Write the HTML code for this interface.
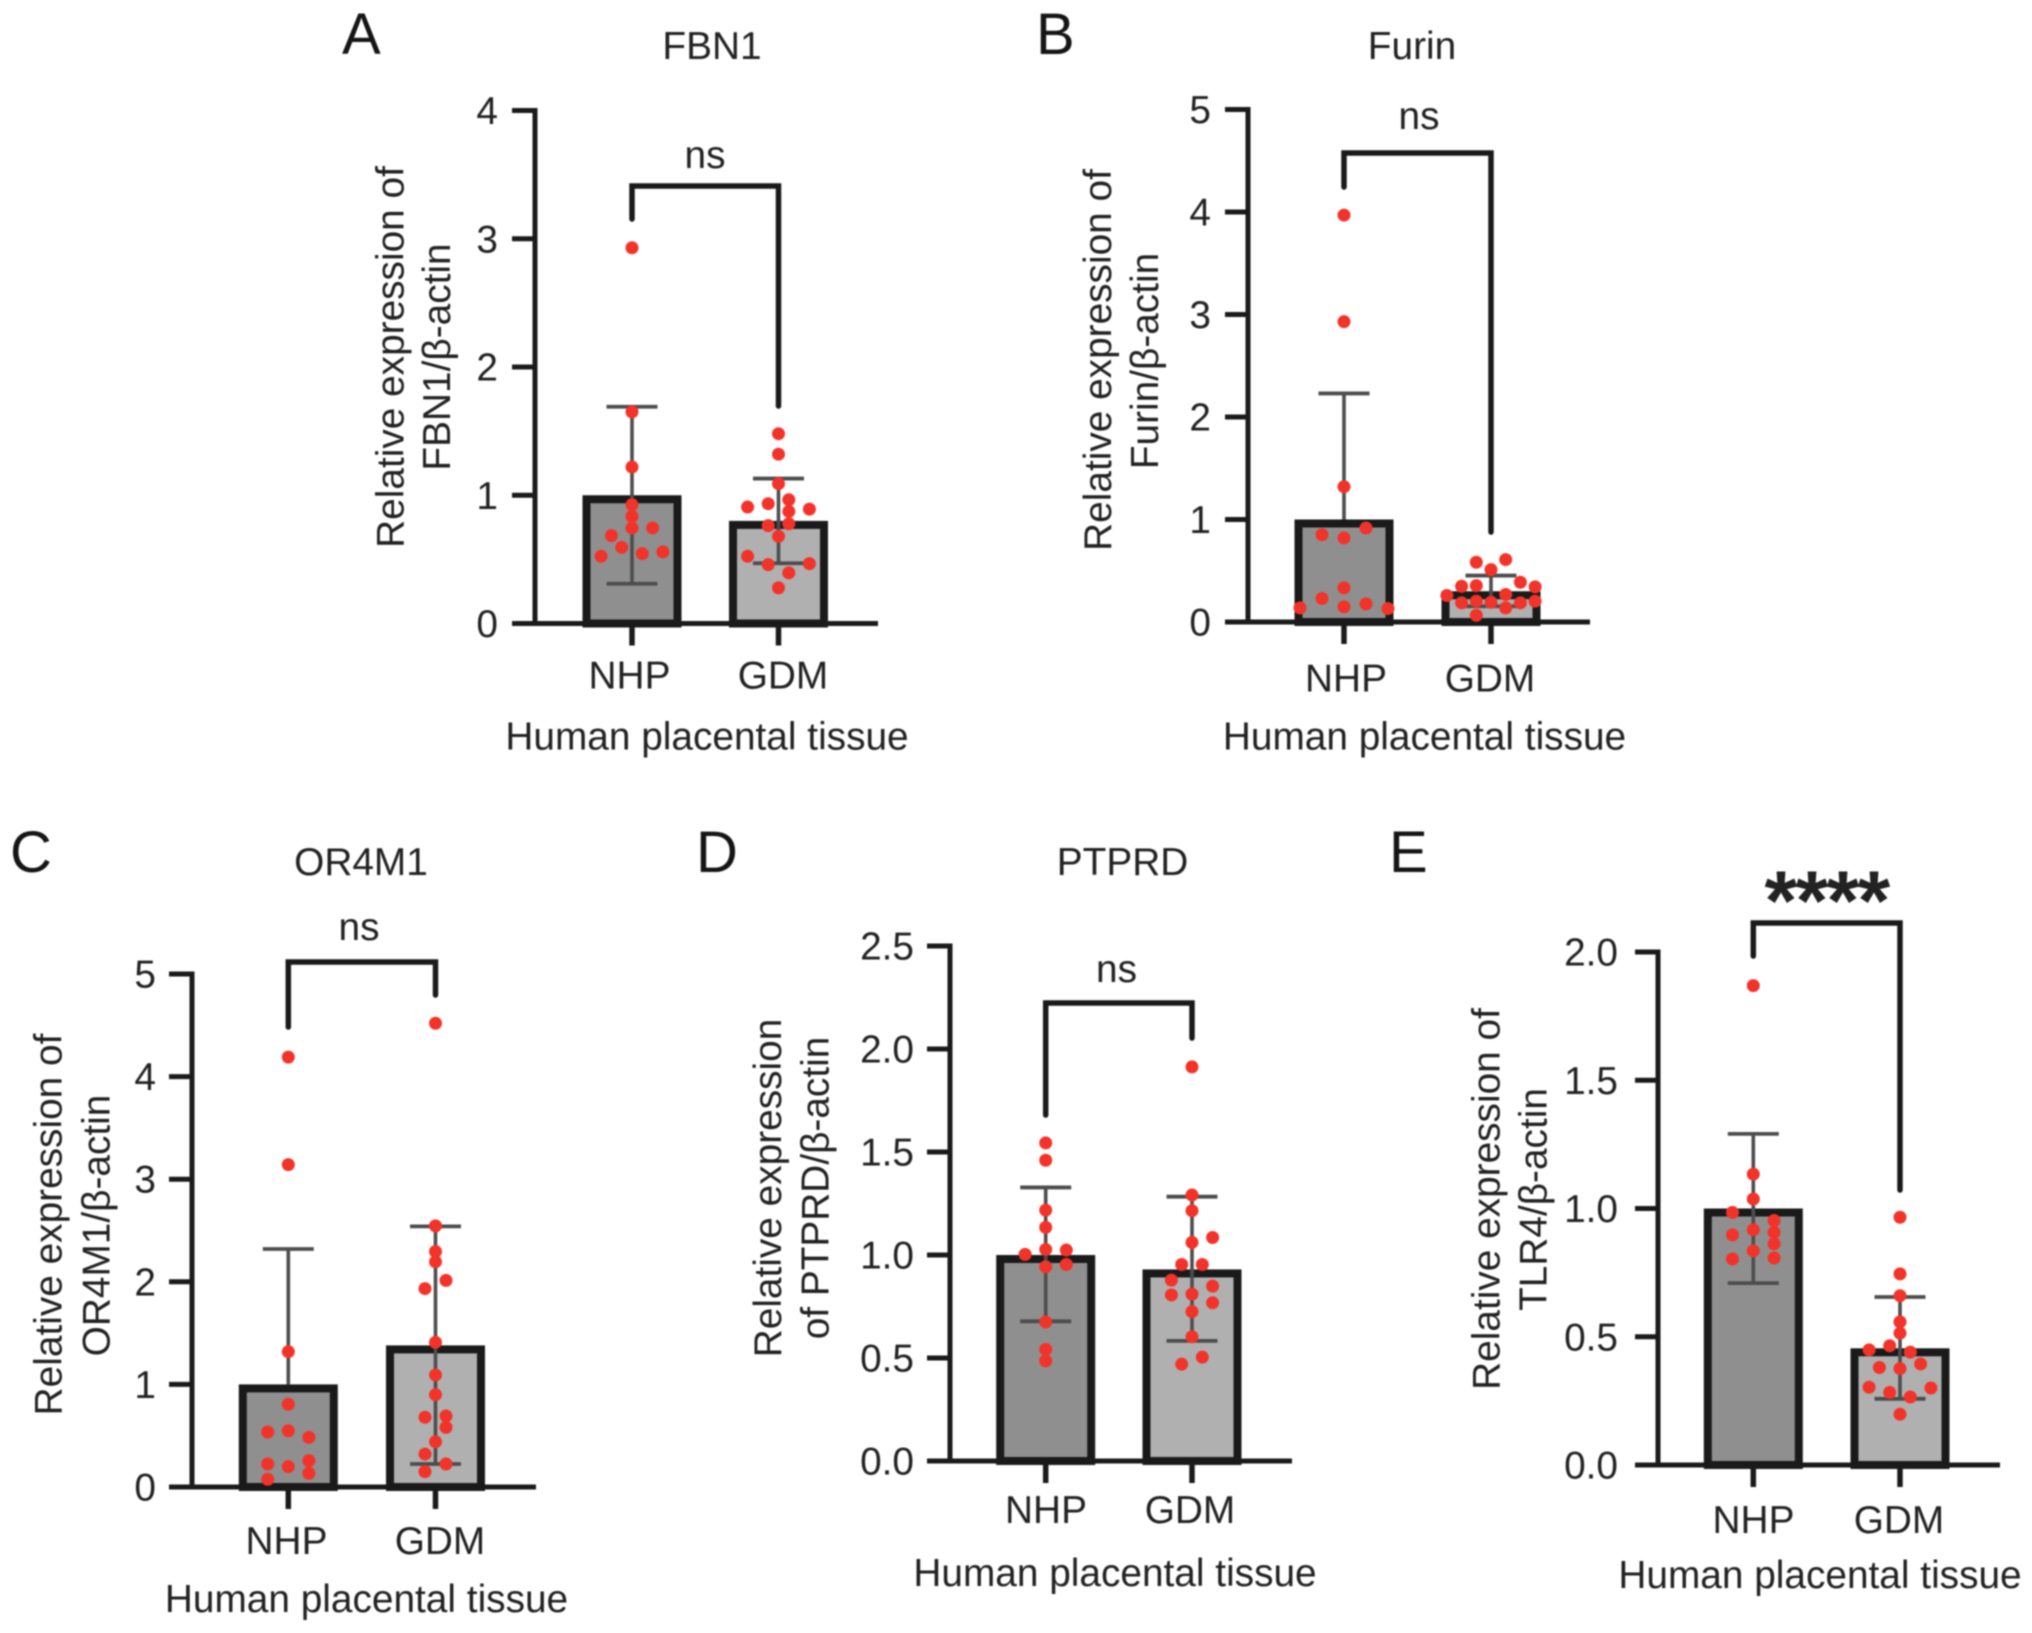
<!DOCTYPE html>
<html lang="en">
<head>
<meta charset="utf-8">
<title>Relative expression in human placental tissue</title>
<style>
  html, body { margin: 0; padding: 0; background: #fff; }
  #figure { display: block; filter: blur(0.9px); }
  text { font-family: "Liberation Sans", "DejaVu Sans", sans-serif; font-size: 38.8px; fill: #222; }
  .mid { text-anchor: middle; }
  .letter { font-size: 58px; fill: #151515; }
  .stars { font-size: 84px; font-weight: bold; letter-spacing: -1.7px; fill: #222; }
</style>
</head>
<body>
<svg id="figure" xmlns="http://www.w3.org/2000/svg" width="2032" height="1633" viewBox="0 0 2032 1633">
  <rect x="0" y="0" width="2032" height="1633" fill="#fff"/>

  <g id="panel-a">
    <text class="letter" x="342" y="54">A</text>
    <text class="mid" x="712" y="59">FBN1</text>
    <text class="mid" x="705" y="168">ns</text>
    <text class="mid" x="707" y="749.5">Human placental tissue</text>
    <text class="mid" transform="translate(403.5 357) rotate(-90)">Relative expression of</text>
    <text class="mid" transform="translate(450 357) rotate(-90)">FBN1/β-actin</text>
  </g>

  <g id="panel-b">
    <text class="letter" x="1036" y="54">B</text>
    <text class="mid" x="1412" y="59">Furin</text>
    <text class="mid" x="1419" y="129">ns</text>
    <text class="mid" x="1424.5" y="749.5">Human placental tissue</text>
    <text class="mid" transform="translate(1111 360) rotate(-90)">Relative expression of</text>
    <text class="mid" transform="translate(1158 361) rotate(-90)">Furin/β-actin</text>
  </g>

  <g id="panel-c">
    <text class="letter" x="10" y="872">C</text>
    <text class="mid" x="361" y="875">OR4M1</text>
    <text class="mid" x="359" y="940">ns</text>
    <text class="mid" x="366.5" y="1612">Human placental tissue</text>
    <text class="mid" transform="translate(61.5 1224.5) rotate(-90)">Relative expression of</text>
    <text class="mid" transform="translate(109.5 1225.5) rotate(-90)">OR4M1/β-actin</text>
  </g>

  <g id="panel-d">
    <text class="letter" x="696" y="872">D</text>
    <text class="mid" x="1122.5" y="875">PTPRD</text>
    <text class="mid" x="1116.5" y="982">ns</text>
    <text class="mid" x="1115" y="1586">Human placental tissue</text>
    <text class="mid" transform="translate(781 1188) rotate(-90)">Relative expression</text>
    <text class="mid" transform="translate(828.5 1188) rotate(-90)">of PTPRD/β-actin</text>
  </g>

  <g id="panel-e">
    <text class="letter" x="1389" y="872">E</text>
    <text class="mid stars" x="1826.5" y="929.5">****</text>
    <text class="mid" x="1820" y="1588">Human placental tissue</text>
    <text class="mid" transform="translate(1499.5 1199) rotate(-90)">Relative expression of</text>
    <text class="mid" transform="translate(1546.5 1199.5) rotate(-90)">TLR4/β-actin</text>
  </g>
</svg>

<script>
// ---- shared categories ----
const categories = ['NHP', 'GDM'];

// ---- FBN1 ----
const fbn1TickLabels = ['0', '1', '2', '3', '4'];
const fbn1Means = [1.0, 0.8];
const fbn1ErrLow = [0.31, 0.47];
const fbn1ErrHigh = [1.69, 1.13];
const fbn1NhpValues = [2.93, 1.65, 1.22, 0.926, 0.835, 0.745, 0.745, 0.685, 0.594, 0.545, 0.558, 0.524];
const fbn1NhpSlots = [0, 0, 0, 0, 0, 0, 2, -2, -1, 1, 3, -3];
const fbn1GdmValues = [1.48, 1.32, 1.09, 0.965, 0.934, 0.908, 0.892, 0.874, 0.763, 0.778, 0.68, 0.524, 0.459, 0.467, 0.395, 0.278];
const fbn1GdmSlots = [0, 0, 0, 1, -1, -3, 3, 1, -1, 1, 0, -3, -1, 3, 1, 0];

// ---- Furin ----
const furinTickLabels = ['0', '1', '2', '3', '4', '5'];
const furinMeans = [1.0, 0.3];
const furinErrLow = [null, 0.154];
const furinErrHigh = [2.23, 0.453];
const furinNhpValues = [3.97, 2.93, 1.32, 0.917, 0.852, 0.82, 0.333, 0.229, 0.177, 0.148, 0.138, 0.131];
const furinNhpSlots = [0, 0, 0, 2, -2, 0, 0, -2, 2, 0, -4, 4];
const furinGdmValues = [0.583, 0.609, 0.511, 0.388, 0.349, 0.355, 0.343, 0.258, 0.268, 0.203, 0.187, 0.203, 0.193, 0.187, 0.138, 0.066];
const furinGdmSlots = [-1, 1, 0, 2, -2, -1, 3, -3, 1, 3, -2, -1, 0, 2, 1, -1];

// ---- OR4M1 ----
const or4m1TickLabels = ['0', '1', '2', '3', '4', '5'];
const or4m1Means = [1.0, 1.38];
const or4m1ErrLow = [null, 0.224];
const or4m1ErrHigh = [2.32, 2.54];
const or4m1NhpValues = [4.19, 3.142, 1.319, 0.806, 0.536, 0.548, 0.484, 0.224, 0.257, 0.198, 0.134, 0.075];
const or4m1NhpSlots = [0, 0, 0, 0, -2, 0, 2, -2, 2, 0, 2, -2];
const or4m1GdmValues = [4.52, 2.545, 2.295, 2.195, 2.014, 1.934, 1.41, 1.092, 0.9, 0.692, 0.68, 0.581, 0.441, 0.321, 0.224, 0.15];
const or4m1GdmSlots = [0, 0, 0, 0, 1, -1, 0, 0, 0, 1, -1, 1, 0, -1, 1, -1];

// ---- PTPRD ----
const ptprdTickLabels = ['0.0', '0.5', '1.0', '1.5', '2.0', '2.5'];
const ptprdMeans = [1.0, 0.93];
const ptprdErrLow = [0.678, 0.583];
const ptprdErrHigh = [1.328, 1.283];
const ptprdNhpValues = [1.544, 1.46, 1.218, 1.134, 1.027, 1.024, 1.003, 0.943, 0.954, 0.675, 0.542, 0.486];
const ptprdNhpSlots = [0, 0, 0, 0, 0, 2, -2, 0, 2, 0, 0, 0];
const ptprdGdmValues = [1.913, 1.291, 1.215, 1.085, 1.061, 0.954, 0.954, 0.878, 0.849, 0.806, 0.81, 0.768, 0.725, 0.603, 0.504, 0.47];
const ptprdGdmSlots = [0, 0, 0, 2, 0, -1, 1, -2, 2, -2, 0, 2, 0, 0, 1, -1];

// ---- TLR4 ----
const tlr4TickLabels = ['0.0', '0.5', '1.0', '1.5', '2.0'];
const tlr4Means = [1.0, 0.455];
const tlr4ErrLow = [0.709, 0.258];
const tlr4ErrHigh = [1.291, 0.655];
const tlr4NhpValues = [1.869, 1.134, 1.037, 0.985, 0.953, 0.917, 0.907, 0.897, 0.862, 0.835, 0.807, 0.803];
const tlr4NhpSlots = [0, 0, 0, -2, 2, 0, 2, -2, 2, 0, 2, -2];
const tlr4GdmValues = [0.966, 0.745, 0.66, 0.558, 0.514, 0.465, 0.449, 0.44, 0.394, 0.38, 0.376, 0.303, 0.3, 0.283, 0.265, 0.198];
const tlr4GdmSlots = [0, 0, 0, 0, 0, -1, -3, 1, 2, -2, 0, -3, 3, -1, 1, 0];

// ---- drawing ----
const SVG_NS = 'http://www.w3.org/2000/svg';
const BAR_HALF = 49.5, BORDER = 8, CAP_HALF = 25.5, DOT_R = 6.5;
const INK = '#1a1a1a', ERR_INK = '#4d4d4d', DOT = '#f2332a';
const BAR_FILLS = ['#8f8f8f', '#b0b0b0'];

function make(parent, tag, attrs) {
  const node = document.createElementNS(SVG_NS, tag);
  for (const key in attrs) node.setAttribute(key, attrs[key]);
  parent.appendChild(node);
  return node;
}

function drawPanel(p) {
  const root = document.getElementById(p.id);
  const maxTick = parseFloat(p.tickLabels[p.tickLabels.length - 1]);
  const yScale = v => p.y0 + (p.yTop - p.y0) * (v / maxTick);

  // bars
  p.means.forEach((mean, i) => {
    const cx = p.centers[i], top = yScale(mean);
    const bar = make(root, 'rect', {
      x: cx - BAR_HALF + BORDER / 2, y: top + BORDER / 2,
      width: BAR_HALF * 2 - BORDER, height: Math.max(p.y0 - top - BORDER / 2, 0),
      fill: BAR_FILLS[i], stroke: INK, 'stroke-width': BORDER
    });
    
    
  });

  // axes
  const yAxis = make(root, 'line', { x1: p.axisX, x2: p.axisX, y1: p.yTop - 2.5, y2: p.y0 + 2.5, stroke: INK, 'stroke-width': 5 });
  
  
  const xAxis = make(root, 'line', { x1: p.axisX - 23, x2: p.xEnd, y1: p.y0, y2: p.y0, stroke: INK, 'stroke-width': 5 });
  
  

  // y ticks
  p.tickLabels.forEach(label => {
    const y = yScale(parseFloat(label));
    const tick = make(root, 'line', { x1: p.axisX - 23, x2: p.axisX, y1: y, y2: y, stroke: INK, 'stroke-width': 5 });
    
    
    const txt = make(root, 'text', { x: p.labelRight, y: y + 13.5, 'text-anchor': 'end' });
    txt.textContent = label;
    
    
  });

  // x ticks and category labels
  categories.forEach((cat, i) => {
    const tick = make(root, 'line', { x1: p.centers[i], x2: p.centers[i], y1: p.y0, y2: p.y0 + 22, stroke: INK, 'stroke-width': 5.5 });
    
    
    const txt = make(root, 'text', { x: p.catX[i], y: p.catY, 'text-anchor': 'middle' });
    txt.textContent = cat;
    
    
  });

  // error bars
  p.means.forEach((mean, i) => {
    const cx = p.centers[i];
    const high = yScale(p.errHigh[i]);
    const low = p.errLow[i] === null ? yScale(mean) : yScale(p.errLow[i]);
    const stem = make(root, 'line', { x1: cx, x2: cx, y1: high, y2: low, stroke: ERR_INK, 'stroke-width': 3.6 });
    
    
    const capTop = make(root, 'line', { x1: cx - CAP_HALF, x2: cx + CAP_HALF, y1: high, y2: high, stroke: ERR_INK, 'stroke-width': 3.8 });
    
    
    if (p.errLow[i] !== null) {
      const capLow = make(root, 'line', { x1: cx - CAP_HALF, x2: cx + CAP_HALF, y1: low, y2: low, stroke: ERR_INK, 'stroke-width': 3.8 });
      
      
    }
  });

  // points
  p.series.forEach((s, i) => {
    s.values.forEach((v, j) => {
      const dot = make(root, 'circle', {
        cx: p.centers[i] + s.slots[j] * s.step, cy: yScale(v), r: DOT_R, fill: DOT
      });
      
      
    });
  });

  // significance bracket
  const b = p.bracket;
  const d = 'M' + p.centers[0] + ' ' + b.left + 'V' + b.y + 'H' + p.centers[1] + 'V' + b.right;
  const br = make(root, 'path', { d: d, fill: 'none', stroke: INK, 'stroke-width': 5.5, 'stroke-linecap': 'round', 'stroke-linejoin': 'miter' });
  
  
}

drawPanel({
  id: 'panel-a', key: 'fbn1', tickLabels: fbn1TickLabels, means: fbn1Means, errLow: fbn1ErrLow, errHigh: fbn1ErrHigh,
  series: [{ values: fbn1NhpValues, slots: fbn1NhpSlots, step: 10.3 }, { values: fbn1GdmValues, slots: fbn1GdmSlots, step: 10.3 }],
  axisX: 535, y0: 623.5, yTop: 110.5, xEnd: 878, centers: [632, 778.5], labelRight: 498,
  catX: [629.5, 783], catY: 688.5, bracket: { y: 186, left: 219, right: 406 }
});
drawPanel({
  id: 'panel-b', key: 'furin', tickLabels: furinTickLabels, means: furinMeans, errLow: furinErrLow, errHigh: furinErrHigh,
  series: [{ values: furinNhpValues, slots: furinNhpSlots, step: 11 }, { values: furinGdmValues, slots: furinGdmSlots, step: 14.7 }],
  axisX: 1248, y0: 622, yTop: 109.5, xEnd: 1590, centers: [1344, 1491], labelRight: 1211,
  catX: [1346, 1490], catY: 691.5, bracket: { y: 153, left: 187, right: 532 }
});
drawPanel({
  id: 'panel-c', key: 'or4m1', tickLabels: or4m1TickLabels, means: or4m1Means, errLow: or4m1ErrLow, errHigh: or4m1ErrHigh,
  series: [{ values: or4m1NhpValues, slots: or4m1NhpSlots, step: 10.3 }, { values: or4m1GdmValues, slots: or4m1GdmSlots, step: 10.5 }],
  axisX: 192, y0: 1487, yTop: 974, xEnd: 536, centers: [288.3, 435.5], labelRight: 156,
  catX: [286.5, 440], catY: 1554, bracket: { y: 962, left: 1027, right: 995 }
});
drawPanel({
  id: 'panel-d', key: 'ptprd', tickLabels: ptprdTickLabels, means: ptprdMeans, errLow: ptprdErrLow, errHigh: ptprdErrHigh,
  series: [{ values: ptprdNhpValues, slots: ptprdNhpSlots, step: 10.3 }, { values: ptprdGdmValues, slots: ptprdGdmSlots, step: 10.3 }],
  axisX: 950, y0: 1461, yTop: 946, xEnd: 1292, centers: [1045.7, 1192], labelRight: 914,
  catX: [1046, 1190], catY: 1523, bracket: { y: 1003, left: 1115, right: 1038 }
});
drawPanel({
  id: 'panel-e', key: 'tlr4', tickLabels: tlr4TickLabels, means: tlr4Means, errLow: tlr4ErrLow, errHigh: tlr4ErrHigh,
  series: [{ values: tlr4NhpValues, slots: tlr4NhpSlots, step: 10.4 }, { values: tlr4GdmValues, slots: tlr4GdmSlots, step: 10.3 }],
  axisX: 1658, y0: 1465, yTop: 952, xEnd: 2000, centers: [1753.3, 1900], labelRight: 1618,
  catX: [1753.5, 1899], catY: 1533, bracket: { y: 923, left: 956, right: 1190 }
});
</script>
</body>
</html>
